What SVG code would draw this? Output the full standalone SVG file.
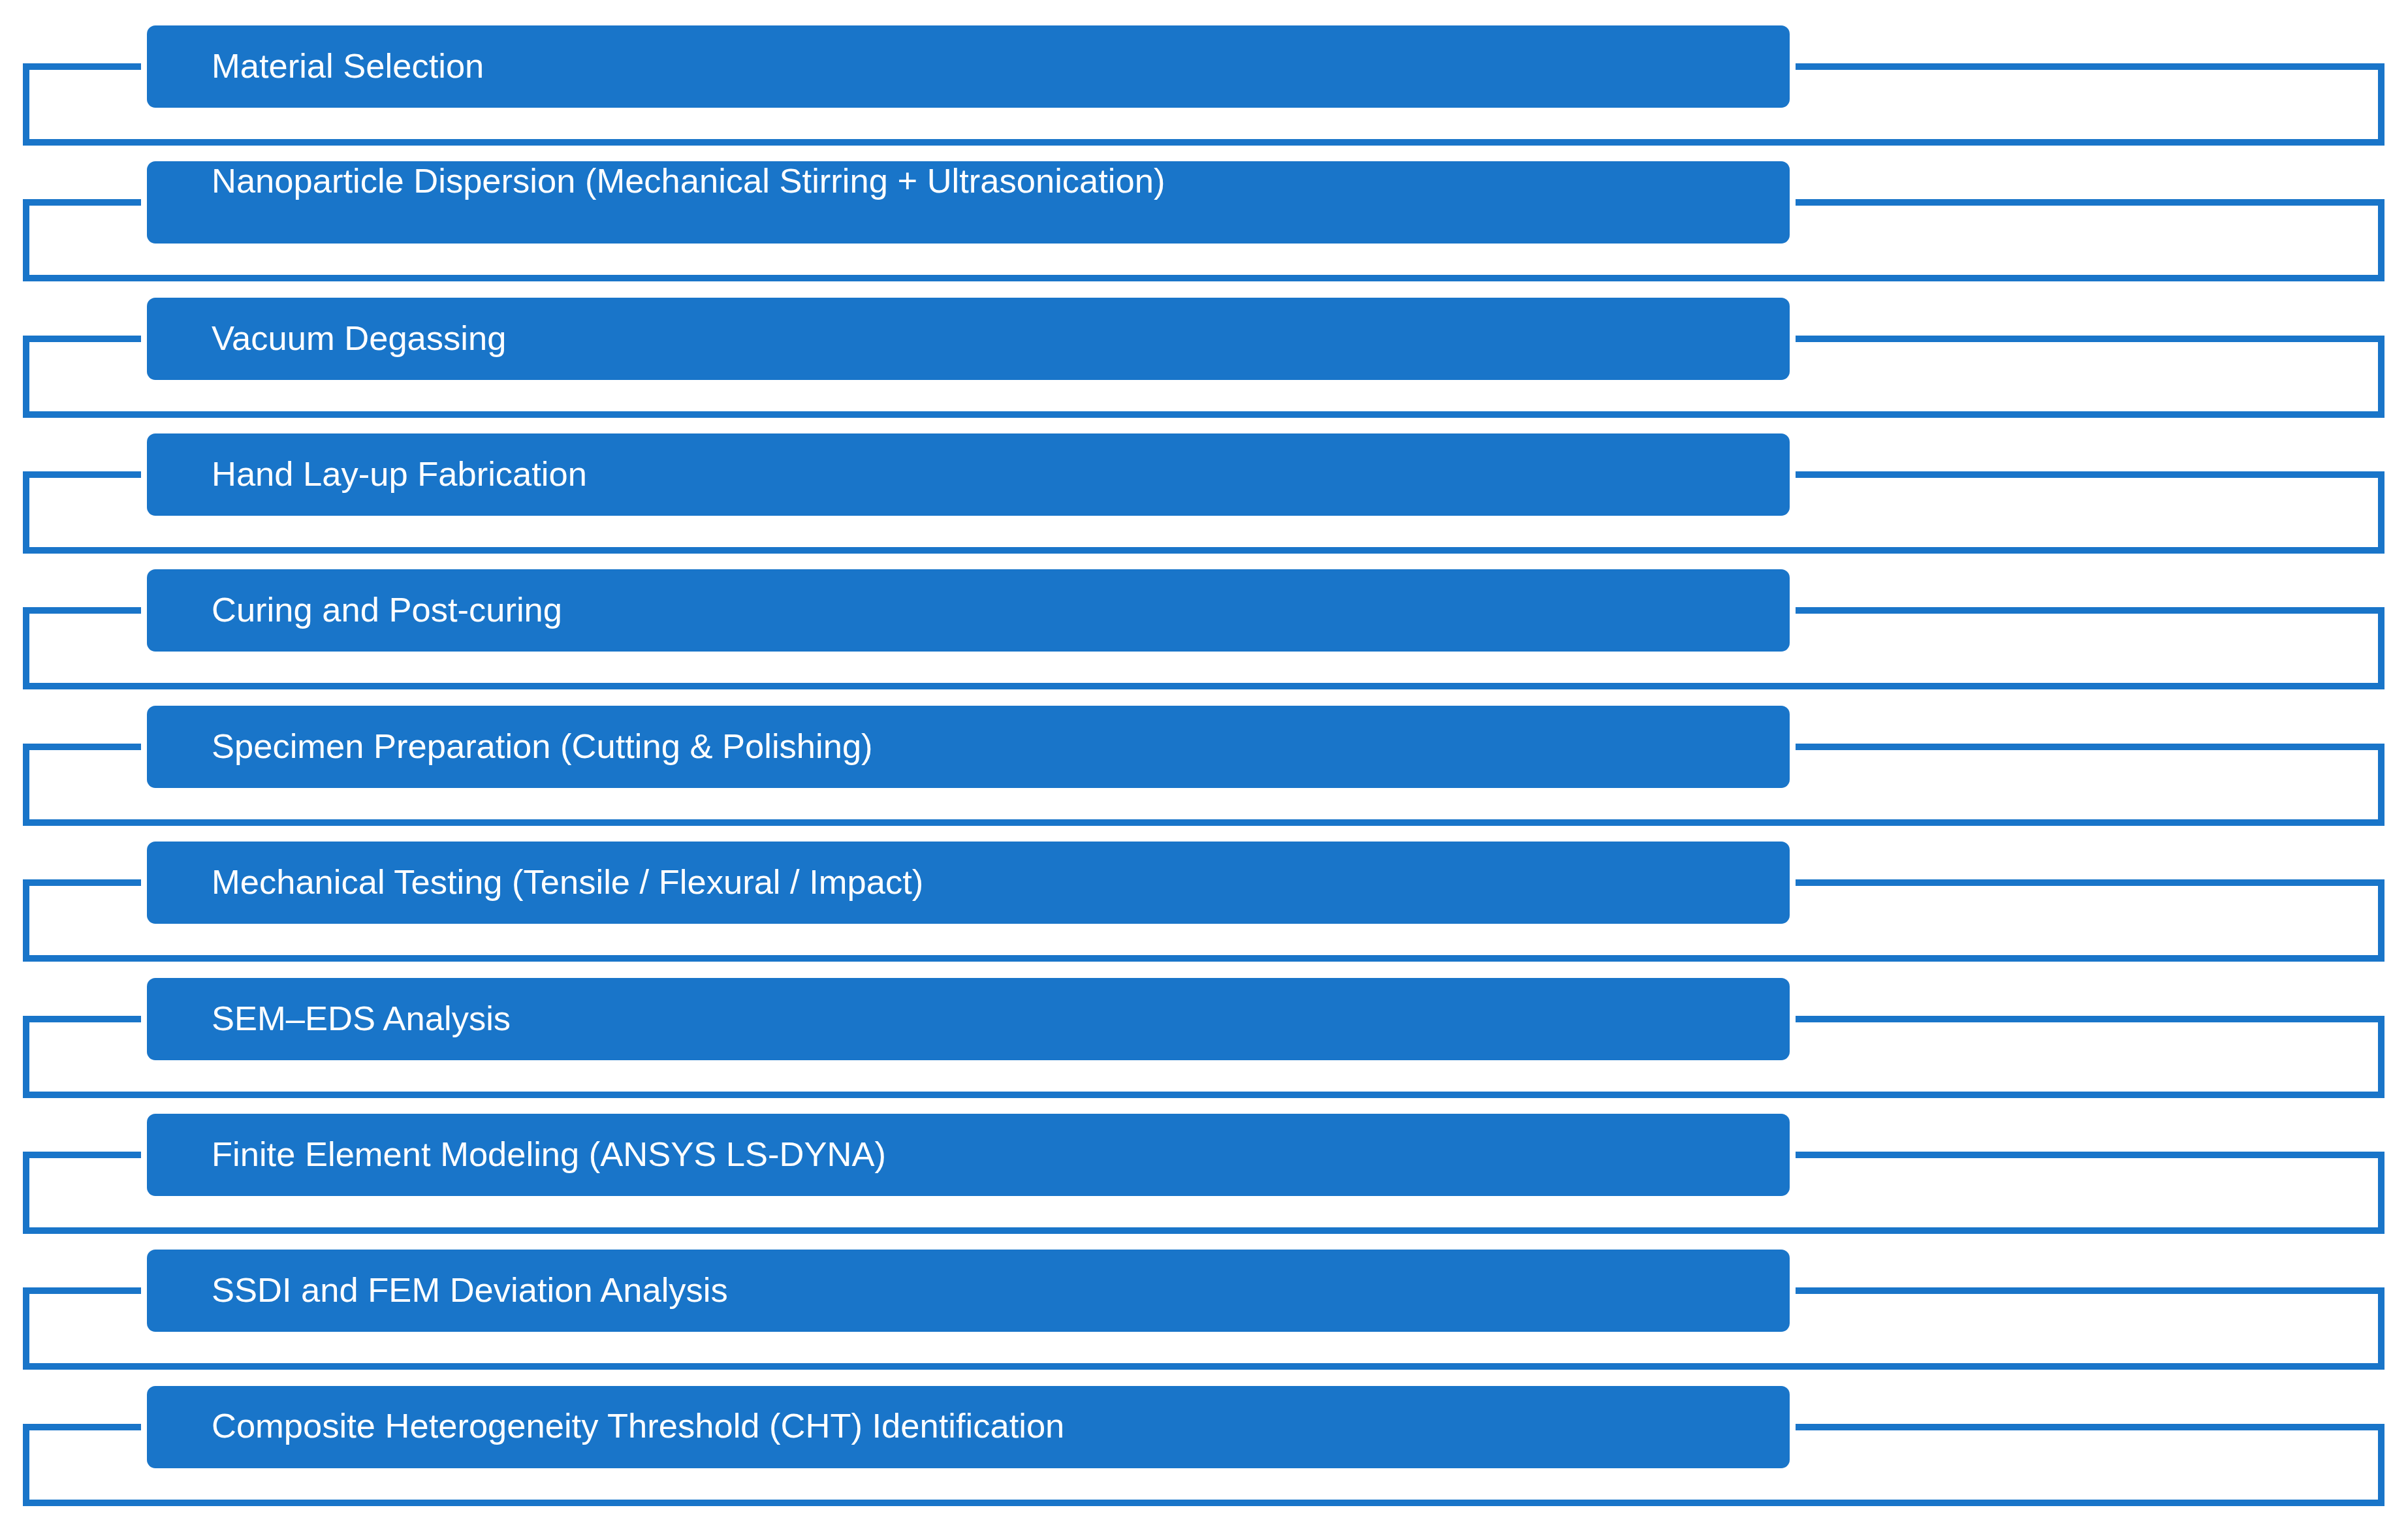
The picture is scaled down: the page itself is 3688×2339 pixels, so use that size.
<svg xmlns="http://www.w3.org/2000/svg" width="3688" height="2339" viewBox="0 0 3688 2339">
<style>
.bg{fill:#ffffff}
.node rect{fill:#1975C9}
.node text{fill:#ffffff;font-family:"Liberation Sans",Arial,sans-serif;font-size:52.5px}
.conn path{fill:none;stroke:#1975C9;stroke-width:10;stroke-linejoin:miter;stroke-linecap:butt}
</style>
<rect class="bg" x="0" y="0" width="3688" height="2339"/>
<g id="connectors" class="conn">
<path d="M216,102 H40 V218 H3647 V102 H2750"/>
<path d="M216,310 H40 V426 H3647 V310 H2750"/>
<path d="M216,519 H40 V635 H3647 V519 H2750"/>
<path d="M216,727 H40 V843 H3647 V727 H2750"/>
<path d="M216,935 H40 V1051 H3647 V935 H2750"/>
<path d="M216,1144 H40 V1260 H3647 V1144 H2750"/>
<path d="M216,1352 H40 V1468 H3647 V1352 H2750"/>
<path d="M216,1561 H40 V1677 H3647 V1561 H2750"/>
<path d="M216,1769 H40 V1885 H3647 V1769 H2750"/>
<path d="M216,1977 H40 V2093 H3647 V1977 H2750"/>
<path d="M216,2186 H40 V2302 H3647 V2186 H2750"/>
</g>
<g id="node1" class="node"><rect x="225" y="39" width="2516" height="126" rx="13"/><text x="324" y="119">Material Selection</text></g>
<g id="node2" class="node"><rect x="225" y="247" width="2516" height="126" rx="13"/><text x="324" y="295">Nanoparticle Dispersion (Mechanical Stirring + Ultrasonication)</text></g>
<g id="node3" class="node"><rect x="225" y="456" width="2516" height="126" rx="13"/><text x="324" y="536">Vacuum Degassing</text></g>
<g id="node4" class="node"><rect x="225" y="664" width="2516" height="126" rx="13"/><text x="324" y="744">Hand Lay-up Fabrication</text></g>
<g id="node5" class="node"><rect x="225" y="872" width="2516" height="126" rx="13"/><text x="324" y="952">Curing and Post-curing</text></g>
<g id="node6" class="node"><rect x="225" y="1081" width="2516" height="126" rx="13"/><text x="324" y="1161">Specimen Preparation (Cutting &amp; Polishing)</text></g>
<g id="node7" class="node"><rect x="225" y="1289" width="2516" height="126" rx="13"/><text x="324" y="1369">Mechanical Testing (Tensile / Flexural / Impact)</text></g>
<g id="node8" class="node"><rect x="225" y="1498" width="2516" height="126" rx="13"/><text x="324" y="1578">SEM–EDS Analysis</text></g>
<g id="node9" class="node"><rect x="225" y="1706" width="2516" height="126" rx="13"/><text x="324" y="1786">Finite Element Modeling (ANSYS LS-DYNA)</text></g>
<g id="node10" class="node"><rect x="225" y="1914" width="2516" height="126" rx="13"/><text x="324" y="1994">SSDI and FEM Deviation Analysis</text></g>
<g id="node11" class="node"><rect x="225" y="2123" width="2516" height="126" rx="13"/><text x="324" y="2202">Composite Heterogeneity Threshold (CHT) Identification</text></g>
</svg>
